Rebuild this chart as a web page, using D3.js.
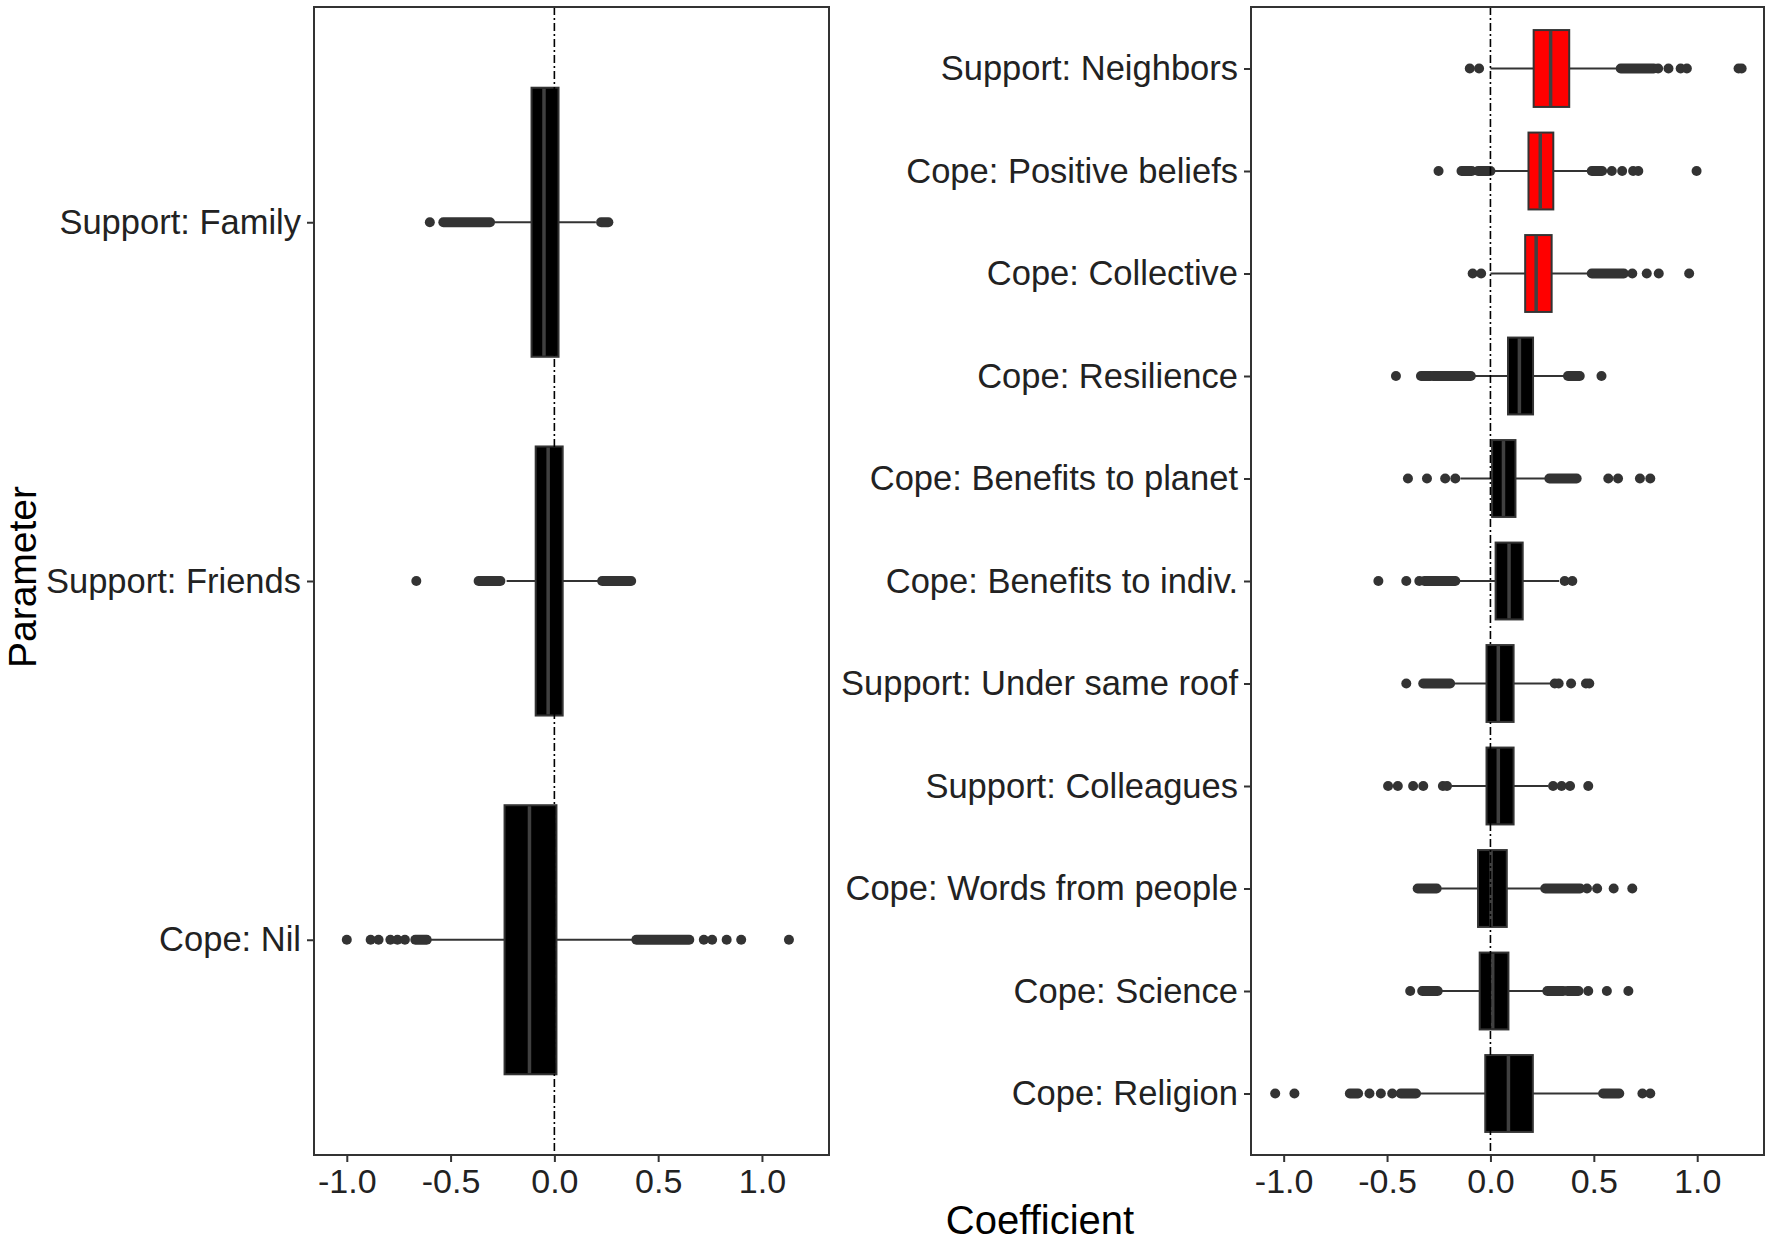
<!DOCTYPE html>
<html>
<head>
<meta charset="utf-8">
<script src="https://cdn.jsdelivr.net/npm/d3@7/dist/d3.min.js"></script>
<style>
  body { margin: 0; background: #fff; }
  text { font-family: "Liberation Sans", Arial, sans-serif; }
</style>
</head>
<body>
<div id="chart"></div>
<script>
// ---- data (top row first) ----
var xTicks = [-1.0, -0.5, 0.0, 0.5, 1.0];

var leftCats = ["Support: Family", "Support: Friends", "Cope: Nil"];
var leftLow  = [-0.30, -0.23, -0.60];
var leftQ1   = [-0.11, -0.09, -0.24];
var leftMed  = [-0.05, -0.03, -0.12];
var leftQ3   = [ 0.02,  0.04,  0.01];
var leftHigh = [ 0.20,  0.21,  0.38];
var leftOutliers = [
  [-0.60],
  [-0.665],
  [-1.0, -0.885, -0.847, -0.79, -0.756, -0.72, 0.72, 0.76, 0.83, 0.90, 1.13]
];
// runs of outliers so dense they merge into a bar: [from, to]
var leftRuns = [
  [[-0.535, -0.31], [0.225, 0.26]],
  [[-0.365, -0.26], [0.23, 0.37]],
  [[-0.67, -0.615], [0.395, 0.65]]
];
var leftColors = ["black", "black", "black"];

var rightCats = ["Support: Neighbors", "Cope: Positive beliefs", "Cope: Collective",
  "Cope: Resilience", "Cope: Benefits to planet", "Cope: Benefits to indiv.",
  "Support: Under same roof", "Support: Colleagues", "Cope: Words from people",
  "Cope: Science", "Cope: Religion"];
var rightLow  = [0.00, 0.01, 0.00, -0.086, -0.145, -0.161, -0.189, -0.189, -0.249, -0.249, -0.352];
var rightQ1   = [0.209, 0.184, 0.168, 0.085, 0.008, 0.025, -0.019, -0.019, -0.06, -0.052, -0.025];
var rightMed  = [0.291, 0.241, 0.221, 0.140, 0.063, 0.090, 0.038, 0.038, 0.003, 0.011, 0.087];
var rightQ3   = [0.381, 0.304, 0.296, 0.206, 0.121, 0.156, 0.112, 0.112, 0.079, 0.087, 0.205];
var rightHigh = [0.625, 0.48, 0.479, 0.366, 0.276, 0.332, 0.29, 0.281, 0.257, 0.27, 0.536];
var rightOutliers = [
  [-0.10, -0.055, 0.811, 0.861, 0.92, 0.95, 1.20, 1.215],
  [-0.251, 0.587, 0.637, 0.69, 0.715, 0.997],
  [-0.086, -0.045, 0.686, 0.756, 0.814, 0.961],
  [-0.457, 0.537],
  [-0.399, -0.307, -0.219, -0.17, 0.57, 0.617, 0.723, 0.773],
  [-0.542, -0.407, -0.344, 0.359, 0.396],
  [-0.407, 0.311, 0.33, 0.39, 0.462, 0.478],
  [-0.495, -0.448, -0.374, -0.325, -0.23, -0.21, 0.303, 0.344, 0.385, 0.473],
  [0.467, 0.516, 0.596, 0.686],
  [-0.388, 0.473, 0.563, 0.667],
  [-1.041, -0.948, -0.585, -0.53, -0.475, 0.735, 0.773]
];
var rightRuns = [
  [[0.63, 0.79]],
  [[-0.14, -0.09], [-0.06, 0.0], [0.49, 0.54]],
  [[0.49, 0.645]],
  [[-0.336, -0.29], [-0.278, -0.095], [0.375, 0.432]],
  [[0.285, 0.417]],
  [[-0.319, -0.17]],
  [[-0.325, -0.195]],
  [],
  [[-0.352, -0.26], [0.265, 0.434]],
  [[-0.33, -0.255], [0.275, 0.352], [0.372, 0.426]],
  [[-0.68, -0.64], [-0.434, -0.36], [0.545, 0.623]]
];
var rightColors = ["red", "red", "red", "black", "black", "black", "black", "black", "black", "black", "black"];

var W = 1772, H = 1244;
var panelTop = 7, panelBottom = 1155;
var xDomain = [-1.158, 1.323];
var ink = "#333333";

var svg = d3.select("#chart").append("svg")
  .attr("width", W)
  .attr("height", H);

function drawPanel(x0, x1, cats, low, q1, med, q3, high, outliers, runs, colors) {
  var x = d3.scaleLinear().domain(xDomain).range([x0, x1]);
  var y = d3.scalePoint().domain(cats).range([panelTop, panelBottom]).padding(0.6);
  var bh = y.step() * 0.75;

  var g = svg.append("g");

  // whiskers
  g.selectAll(".whisker")
    .data(cats)
    .enter()
    .append("line")
      .attr("x1", function(d, i){ return x(low[i]); })
      .attr("x2", function(d, i){ return x(high[i]); })
      .attr("y1", function(d){ return y(d); })
      .attr("y2", function(d){ return y(d); })
      .style("stroke", ink)
      .style("stroke-width", 2);

  // outliers: dense runs drawn as a thick rounded line, single points as dots
  cats.forEach(function(c, i) {
    g.selectAll(".run" + i)
      .data(runs[i])
      .enter()
      .append("line")
        .attr("x1", function(d){ return x(d[0]); })
        .attr("x2", function(d){ return x(d[1]); })
        .attr("y1", y(c))
        .attr("y2", y(c))
        .style("stroke", ink)
        .style("stroke-width", 10)
        .style("stroke-linecap", "round");

    g.selectAll(".pt" + i)
      .data(outliers[i])
      .enter()
      .append("circle")
        .attr("cx", function(d){ return x(d); })
        .attr("cy", y(c))
        .attr("r", 5)
        .style("fill", ink);
  });

  // boxes
  g.selectAll(".box")
    .data(cats)
    .enter()
    .append("rect")
      .attr("x", function(d, i){ return x(q1[i]); })
      .attr("y", function(d){ return y(d) - bh / 2; })
      .attr("width", function(d, i){ return x(q3[i]) - x(q1[i]); })
      .attr("height", bh)
      .style("fill", function(d, i){ return colors[i]; })
      .style("stroke", ink)
      .style("stroke-width", 2);

  // medians
  g.selectAll(".median")
    .data(cats)
    .enter()
    .append("line")
      .attr("x1", function(d, i){ return x(med[i]); })
      .attr("x2", function(d, i){ return x(med[i]); })
      .attr("y1", function(d){ return y(d) - bh / 2 + 1; })
      .attr("y2", function(d){ return y(d) + bh / 2 - 1; })
      .style("stroke", "#404040")
      .style("stroke-width", 3.5);

  // zero reference line
  g.append("line")
    .attr("x1", x(0)).attr("x2", x(0))
    .attr("y1", panelTop).attr("y2", panelBottom)
    .style("stroke", "black")
    .style("stroke-width", 1.6)
    .style("stroke-dasharray", "8,3,2,3");

  // frame
  g.append("rect")
    .attr("x", x0).attr("y", panelTop)
    .attr("width", x1 - x0).attr("height", panelBottom - panelTop)
    .style("fill", "none")
    .style("stroke", ink)
    .style("stroke-width", 2);

  // x axis
  var xa = g.append("g")
    .attr("transform", "translate(0," + panelBottom + ")")
    .call(d3.axisBottom(x).tickValues(xTicks).tickSize(7).tickPadding(7)
      .tickFormat(function(d){ return d.toFixed(1); }));
  xa.select(".domain").remove();
  xa.selectAll("line").style("stroke", ink).style("stroke-width", 2);
  xa.selectAll("text")
    .style("font-size", "34px")
    .style("fill", "#222")
    .style("font-family", "'Liberation Sans', Arial, sans-serif");

  // y axis
  var ya = g.append("g")
    .attr("transform", "translate(" + x0 + ",0)")
    .call(d3.axisLeft(y).tickSize(7).tickPadding(6));
  ya.select(".domain").remove();
  ya.selectAll("line").style("stroke", ink).style("stroke-width", 2);
  ya.selectAll("text")
    .style("font-size", "34.5px")
    .style("fill", "#222")
    .style("font-family", "'Liberation Sans', Arial, sans-serif");
}

drawPanel(314, 829, leftCats, leftLow, leftQ1, leftMed, leftQ3, leftHigh, leftOutliers, leftRuns, leftColors);
drawPanel(1251, 1764, rightCats, rightLow, rightQ1, rightMed, rightQ3, rightHigh, rightOutliers, rightRuns, rightColors);

// axis titles
svg.append("text")
  .attr("transform", "translate(36,577) rotate(-90)")
  .attr("text-anchor", "middle")
  .text("Parameter")
  .attr("font-size", "39px")
  .attr("fill", "black");

svg.append("text")
  .attr("x", 1040)
  .attr("y", 1234)
  .attr("text-anchor", "middle")
  .text("Coefficient")
  .attr("font-size", "40px")
  .attr("fill", "black");
</script>
</body>
</html>
